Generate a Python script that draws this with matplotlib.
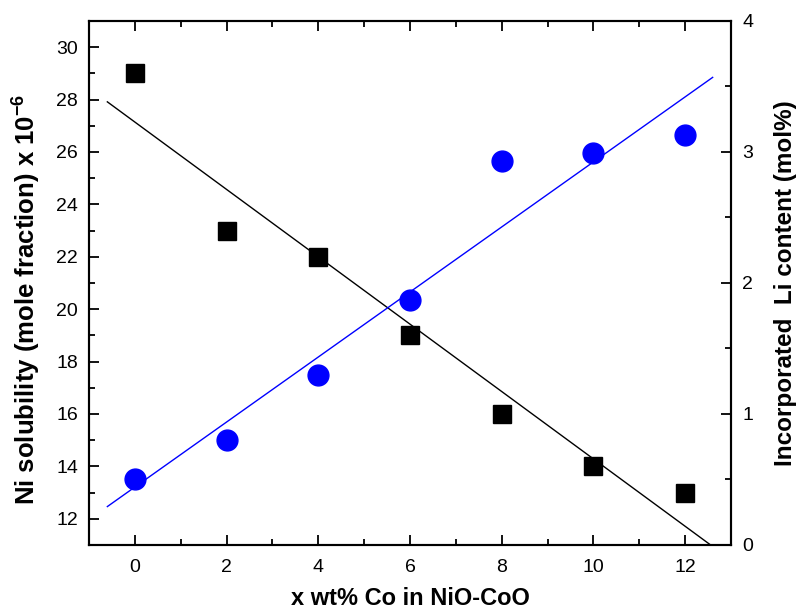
import numpy as np
import matplotlib
matplotlib.use("Agg")
import matplotlib.pyplot as plt
from matplotlib.ticker import MultipleLocator

plt.rcParams['font.family'] = ['Liberation Sans', 'DejaVu Sans']

x_co = [0, 2, 4, 6, 8, 10, 12]
ni_solubility = [29, 23, 22, 19, 16, 14, 13]
li_content = [0.5, 0.8, 1.3, 1.87, 2.93, 2.99, 3.13]

fig = plt.figure(figsize=(7.99, 6.14), dpi=100)
ax = fig.add_axes([0.1114, 0.1124, 0.8035, 0.8534])
ax2 = ax.twinx()

xfit = np.array([-0.6, 12.6])
p1 = np.polyfit(x_co, ni_solubility, 1)
p2 = np.polyfit(x_co, li_content, 1)

ax.plot(xfit, np.polyval(p1, xfit), color='black', lw=1.0, zorder=2)
ax.plot(x_co, ni_solubility, 's', color='black', ms=13.5, zorder=3)
ax2.plot(xfit, np.polyval(p2, xfit), color='#0000ff', lw=1.0, zorder=2)
ax2.plot(x_co, li_content, 'o', color='#0000ff', ms=15, zorder=3)

ax.set_xlim(-1, 13)
ax.set_ylim(11, 31)
ax2.set_ylim(0, 4)

ax.xaxis.set_major_locator(MultipleLocator(2))
ax.xaxis.set_minor_locator(MultipleLocator(1))
ax.yaxis.set_major_locator(MultipleLocator(2))
ax.yaxis.set_minor_locator(MultipleLocator(1))
ax2.yaxis.set_major_locator(MultipleLocator(1))
ax2.yaxis.set_minor_locator(MultipleLocator(0.5))

for a in (ax, ax2):
    for s in a.spines.values():
        s.set_linewidth(1.5)
ax.tick_params(axis='x', which='both', direction='in', top=True, bottom=True,
               labelsize=14, pad=10, width=1.3)
ax.tick_params(axis='y', which='both', direction='in', left=True, right=False,
               labelsize=14, pad=8, width=1.3)
ax.tick_params(which='major', length=7)
ax.tick_params(which='minor', length=4.5)
ax2.tick_params(axis='y', which='both', direction='in', labelsize=14, pad=8, width=1.3)
ax2.tick_params(which='major', length=7)
ax2.tick_params(which='minor', length=4.5)

ax.set_xlabel('x wt% Co in NiO-CoO', fontsize=17, fontweight='bold', labelpad=8)
ax.set_ylabel('Ni solubility (mole fraction) x 10$^{\\mathregular{-6}}$', fontsize=18.5,
              fontweight='bold')
ax.yaxis.set_label_coords(-0.074, 0.468)
ax2.set_ylabel('Incorporated  Li content (mol%)', fontsize=17.5, fontweight='bold')
ax2.yaxis.set_label_coords(1.067, 0.5)

fig.savefig('out.png', dpi=100)
